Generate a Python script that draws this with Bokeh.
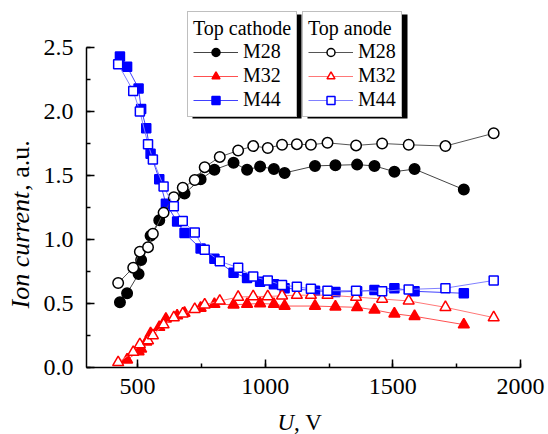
import math
from bokeh.plotting import figure
from bokeh.models import (Range1d, SingleIntervalTicker, PrintfTickFormatter, Legend, LegendItem,
                          BoxAnnotation, Label)
from bokeh.embed import file_html
from bokeh.resources import INLINE

# ---------------- data ----------------
cathode_m28_u = [431, 459, 504, 514, 551, 585, 684, 747, 801, 876, 929, 980, 1034, 1076,
                 1195, 1275, 1360, 1428, 1506, 1585, 1778]
cathode_m28 = [0.51, 0.58, 0.73, 0.84, 1.03, 1.15, 1.36, 1.47, 1.545, 1.60, 1.545, 1.57, 1.55, 1.52,
               1.575, 1.58, 1.585, 1.575, 1.53, 1.55, 1.39]

cathode_m32_u = [459, 504, 514, 534, 551, 585, 611, 655, 684, 747, 801, 876, 929, 980, 1034, 1076,
                 1195, 1275, 1360, 1428, 1506, 1585, 1778]
cathode_m32 = [0.06, 0.125, 0.145, 0.20, 0.265, 0.315, 0.38, 0.405, 0.425, 0.465, 0.495, 0.49, 0.495,
               0.50, 0.495, 0.48, 0.48, 0.475, 0.47, 0.45, 0.42, 0.40, 0.335]

cathode_m44_u = [431, 459, 504, 514, 534, 551, 585, 611, 655, 684, 747, 801, 876, 929, 980, 1034,
                 1076, 1195, 1275, 1360, 1428, 1506, 1585, 1778]
cathode_m44 = [2.43, 2.35, 2.18, 2.02, 1.87, 1.67, 1.47, 1.28, 1.14, 1.05, 0.93, 0.85, 0.74, 0.70,
               0.67, 0.65, 0.62, 0.60, 0.59, 0.595, 0.605, 0.62, 0.595, 0.58]

anode_u = [424, 483, 509, 541, 560, 602, 642, 677, 724, 763, 822, 894, 953, 1010, 1066, 1124,
           1179, 1244, 1356, 1458, 1562, 1706, 1895]
anode_m28 = [0.66, 0.78, 0.905, 0.94, 1.045, 1.21, 1.33, 1.405, 1.465, 1.565, 1.645, 1.695, 1.73,
             1.715, 1.74, 1.745, 1.74, 1.755, 1.735, 1.75, 1.74, 1.73, 1.83]
anode_m32 = [0.04, 0.12, 0.18, 0.21, 0.25, 0.335, 0.39, 0.42, 0.455, 0.49, 0.52, 0.55, 0.555,
             0.555, 0.56, 0.565, 0.565, 0.565, 0.55, 0.535, 0.52, 0.47, 0.39]
anode_m44 = [2.37, 2.16, 2.0, 1.745, 1.625, 1.415, 1.26, 1.145, 1.055, 0.92, 0.83, 0.78, 0.71,
             0.68, 0.645, 0.63, 0.615, 0.60, 0.60, 0.595, 0.61, 0.62, 0.68]

x_bounds = (300, 2000)
y_bounds = (0.0, 2.5)
x_ticks_interval = 500
y_ticks_interval = 0.5

# ---------------- layout (canvas pixels) ----------------
W, H = 548, 434
AX_L, AX_R, AX_B = 86, 520, 367      # pixel positions of x=300, x=2000, y=0
PXY = 128.0                           # pixels per y unit
UX = (x_bounds[1] - x_bounds[0]) / (AX_R - AX_L)


def sx2x(px):
    return x_bounds[0] + (px - AX_L) * UX


def sy2y(py):
    return (AX_B - py) / PXY


SERIF = "Liberation Serif"

p = figure(width=W, height=H,
           x_range=Range1d(sx2x(0), sx2x(W)), y_range=Range1d(sy2y(H), sy2y(0)),
           output_backend="svg", toolbar_location=None,
           min_border_left=0, min_border_right=0, min_border_top=0, min_border_bottom=0)
p.outline_line_color = None
p.xgrid.grid_line_color = None
p.ygrid.grid_line_color = None

for ax in (p.xaxis[0], p.yaxis[0]):
    ax.axis_line_width = 1.5
    ax.axis_line_color = "black"
    ax.major_tick_in = 8
    ax.major_tick_out = 0
    ax.minor_tick_in = 4
    ax.minor_tick_out = 0
    ax.major_tick_line_width = 1.5
    ax.minor_tick_line_width = 1.5
    ax.major_tick_line_color = "black"
    ax.minor_tick_line_color = "black"
    ax.major_label_text_font = SERIF
    ax.major_label_text_font_size = "24px"
    ax.major_label_text_color = "black"

p.xaxis[0].fixed_location = y_bounds[0]
p.xaxis[0].bounds = x_bounds
p.xaxis[0].ticker = SingleIntervalTicker(interval=x_ticks_interval, num_minor_ticks=2)
p.xaxis[0].major_label_standoff = 11
p.yaxis[0].fixed_location = x_bounds[0]
p.yaxis[0].bounds = y_bounds
p.yaxis[0].ticker = SingleIntervalTicker(interval=y_ticks_interval, num_minor_ticks=2)
p.yaxis[0].formatter = PrintfTickFormatter(format="%.1f")
p.yaxis[0].major_label_standoff = 13

# ---------------- series ----------------
def series(u, v, color, line_color, marker, size, filled):
    ln = p.line(u, v, line_color=line_color, line_width=1)
    sc = p.scatter(u, v, marker=marker, size=size, line_color=color, line_width=1.5,
                   fill_color=color if filled else "white")
    return [ln, sc]

c28 = series(cathode_m28_u, cathode_m28, "black", "#444444", "circle", 10.5, True)
c32 = series(cathode_m32_u, cathode_m32, "#ff0000", "#ff5050", "triangle", 11, True)
c44 = series(cathode_m44_u, cathode_m44, "#0000ff", "#4040ff", "square", 9, True)
a28 = series(anode_u, anode_m28, "black", "#555555", "circle", 10.5, False)
a32 = series(anode_u, anode_m32, "#ff0000", "#ff7878", "triangle", 11, False)
a44 = series(anode_u, anode_m44, "#0000ff", "#8080ff", "square", 9, False)

# ---------------- legends with shadows ----------------
L1 = (187, 296, 9, 113)   # left, right, top, bottom (canvas px)
L2 = (302, 402, 9, 113)
SH = 5
LEG_DY = 4                # empirical offset of Bokeh's legend anchor
for (l, r, t, b) in (L1, L2):
    p.add_layout(BoxAnnotation(left=sx2x(l + SH), right=sx2x(r + SH), top=sy2y(t + SH),
                               bottom=sy2y(b + SH), fill_color="black", fill_alpha=1,
                               line_color=None))


def make_legend(title, items, box):
    l, r, t, b = box
    leg = Legend(items=[LegendItem(label=lab, renderers=rs) for lab, rs in items],
                 title=title, location=(l, H - b - LEG_DY), orientation="vertical")
    leg.border_line_color = "#808080"
    leg.border_line_width = 1.5
    leg.background_fill_color = "white"
    leg.background_fill_alpha = 1
    leg.label_text_font = SERIF
    leg.label_text_font_size = "20px"
    leg.label_text_color = "black"
    leg.title_text_font = SERIF
    leg.title_text_font_size = "20px"
    leg.title_text_font_style = "normal"
    leg.title_text_color = "black"
    leg.glyph_width = 45
    leg.glyph_height = 20
    leg.label_height = 20
    leg.label_standoff = 5
    leg.padding = 5
    leg.spacing = 1
    leg.title_standoff = 0
    leg.margin = 0
    return leg

p.add_layout(make_legend("Top cathode", [("M28", c28), ("M32", c32), ("M44", c44)], L1))
p.add_layout(make_legend("Top anode", [("M28", a28), ("M32", a32), ("M44", a44)], L2))

# ---------------- axis titles ----------------
YL_X, YL_Y, YL_FS = 20, 308, 26
p.add_layout(Label(x=sx2x(YL_X), y=sy2y(YL_Y), text="Ion current", angle=math.pi / 2,
                   text_align="left", text_baseline="middle", text_font=SERIF,
                   text_font_style="italic", text_font_size=f"{YL_FS}px", text_color="black"))
p.add_layout(Label(x=sx2x(YL_X), y=sy2y(YL_Y - 4.527 * YL_FS), text=", a.u.", angle=math.pi / 2,
                   text_align="left", text_baseline="middle", text_font=SERIF,
                   text_font_size=f"{YL_FS}px", text_color="black"))

XL_X, XL_Y, XL_FS = 277, 422, 23
p.add_layout(Label(x=sx2x(XL_X), y=sy2y(XL_Y), text="U", text_align="left",
                   text_baseline="alphabetic", text_font=SERIF, text_font_style="italic",
                   text_font_size=f"{XL_FS}px", text_color="black"))
p.add_layout(Label(x=sx2x(XL_X + 0.722 * XL_FS), y=sy2y(XL_Y), text=", V", text_align="left",
                   text_baseline="alphabetic", text_font=SERIF, text_font_size=f"{XL_FS}px",
                   text_color="black"))

open("out.html", "w").write(file_html(p, INLINE))
